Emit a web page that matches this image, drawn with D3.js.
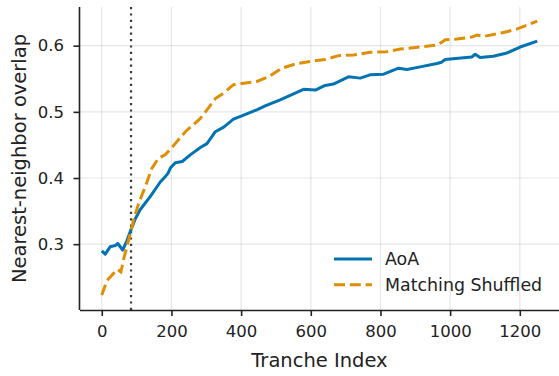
<!DOCTYPE html>
<html>
<head>
<meta charset="utf-8">
<script src="https://cdn.jsdelivr.net/npm/d3@7"></script>
<style>
  body { margin: 0; background: #fff; }
  svg { font-family: "DejaVu Sans", sans-serif; }
</style>
</head>
<body>
<svg id="chart" width="559" height="376"></svg>
<script>
// AoA curve as [tranche index, overlap]
var aoa = [[0,0.290],[10,0.285],[24,0.296],[39,0.298],[46,0.301],[60,0.291],[72,0.305],[84,0.322],
  [96,0.338],[110,0.352],[139,0.372],[168,0.394],[182,0.402],[190,0.407],[197,0.415],[211,0.423],
  [231,0.425],[254,0.435],[283,0.446],[302,0.452],[326,0.470],[350,0.477],[378,0.489],[402,0.494],
  [445,0.503],[469,0.509],[512,0.518],[541,0.525],[579,0.534],[613,0.533],[641,0.540],[665,0.542],
  [708,0.553],[742,0.551],[770,0.556],[809,0.557],[852,0.566],[876,0.564],[914,0.568],[962,0.573],
  [975,0.575],[986,0.579],[1062,0.583],[1072,0.587],[1086,0.582],[1124,0.584],[1163,0.589],
  [1201,0.598],[1250,0.607]];

// Matching shuffled curve
var shuffled = [[0,0.223],[15,0.245],[29,0.253],[45,0.262],[55,0.258],[63,0.278],[77,0.306],
  [91,0.336],[106,0.362],[125,0.387],[144,0.415],[163,0.430],[182,0.435],[211,0.452],[240,0.470],
  [283,0.490],[302,0.503],[326,0.520],[354,0.530],[378,0.541],[402,0.543],[445,0.546],[479,0.553],
  [517,0.566],[560,0.573],[607,0.577],[641,0.579],[680,0.585],[722,0.586],[770,0.590],[818,0.591],
  [857,0.595],[914,0.598],[962,0.601],[975,0.605],[986,0.609],[1019,0.610],[1062,0.613],[1077,0.616],
  [1096,0.614],[1153,0.620],[1191,0.625],[1250,0.637]];

var xTicks = [0,200,400,600,800,1000,1200];
var yTicks = [0.3,0.4,0.5,0.6];
var cutoff = 84; // dotted vertical marker

var margin = {left:80, right:0, top:7, bottom:66};
var W = 559, H = 376;
var BLUE = "#0173b2", ORANGE = "#de8f05";

var svg = d3.select("#chart");

var x = d3.scaleLinear().domain([-62.5,1312.5]).range([margin.left, W-margin.right]);
var y = d3.scaleLinear().domain([0.2005,0.6585]).range([H-margin.bottom, margin.top]);

// grid
var g = svg.append("g");
g.selectAll("line.vgrid").data(xTicks).enter().append("line")
  .attr("x1", d => x(d)).attr("x2", d => x(d))
  .attr("y1", y.range()[0]).attr("y2", y.range()[1])
  .style("stroke","#b0b0b0").style("stroke-opacity",0.3).style("stroke-width",1.2);
g.selectAll("line.hgrid").data(yTicks).enter().append("line")
  .attr("x1", x.range()[0]).attr("x2", x.range()[1])
  .attr("y1", d => y(d)).attr("y2", d => y(d))
  .style("stroke","#b0b0b0").style("stroke-opacity",0.3).style("stroke-width",1.2);

// cutoff line
svg.append("line")
  .attr("x1", x(cutoff)).attr("x2", x(cutoff))
  .attr("y1", y.range()[0]).attr("y2", y.range()[1])
  .style("stroke","#3a3a3a").style("stroke-width",2.2)
  .style("stroke-dasharray","2.2,4.2");

var line = d3.line().x(d => x(d[0])).y(d => y(d[1]));

svg.append("path").datum(aoa).attr("d", line)
  .style("fill","none").style("stroke",BLUE).style("stroke-width",3)
  .style("stroke-linejoin","round");

svg.append("path").datum(shuffled).attr("d", line)
  .style("fill","none").style("stroke",ORANGE).style("stroke-width",3)
  .style("stroke-dasharray","11,4.8");

// axes
var xAxis = svg.append("g").attr("transform","translate(0,"+y.range()[0]+")")
  .call(d3.axisBottom(x).tickValues(xTicks).tickSize(6).tickPadding(9.5).tickFormat(d3.format("d")));
var yAxis = svg.append("g").attr("transform","translate("+x.range()[0]+",0)")
  .call(d3.axisLeft(y).tickValues(yTicks).tickSize(6.5).tickPadding(9.5).tickFormat(d3.format(".1f")));

[xAxis, yAxis].forEach(function(a) {
  a.select(".domain").style("stroke","#222").style("stroke-width",1.6);
  a.selectAll(".tick line").style("stroke","#222").style("stroke-width",1.6);
  a.selectAll(".tick text").style("font-family","DejaVu Sans").style("font-size","16.5px").style("fill","#222");
});
xAxis.select(".domain").attr("d","M"+x.range()[0]+",0.5H"+x.range()[1]);
yAxis.select(".domain").attr("d","M-0.5,"+y.range()[0]+"V"+y.range()[1]);

svg.append("text").attr("x", (x.range()[0]+x.range()[1])/2).attr("y", 366.5)
  .attr("text-anchor","middle").style("font-size","19.5px").style("fill","#222")
  .text("Tranche Index");
svg.append("text").attr("transform","translate(25.5,"+((y.range()[0]+y.range()[1])/2)+") rotate(-90)")
  .attr("text-anchor","middle").style("font-size","19.5px").style("fill","#222")
  .text("Nearest-neighbor overlap");

// legend
var legend = [{name:"AoA", color:BLUE, dash:null},
              {name:"Matching Shuffled", color:ORANGE, dash:"11,4.8"}];
var lg = svg.append("g").attr("transform","translate(334,259)");
legend.forEach(function(d,i) {
  lg.append("line").attr("x1",0).attr("x2",38).attr("y1",i*25.7).attr("y2",i*25.7)
    .style("stroke",d.color).style("stroke-width",3)
    .style("stroke-dasharray",d.dash);
  lg.append("text").attr("x",51).attr("y",i*25.7+6.2).style("font-size","17.4px").style("fill","#222")
    .text(d.name);
});
</script>
</body>
</html>
